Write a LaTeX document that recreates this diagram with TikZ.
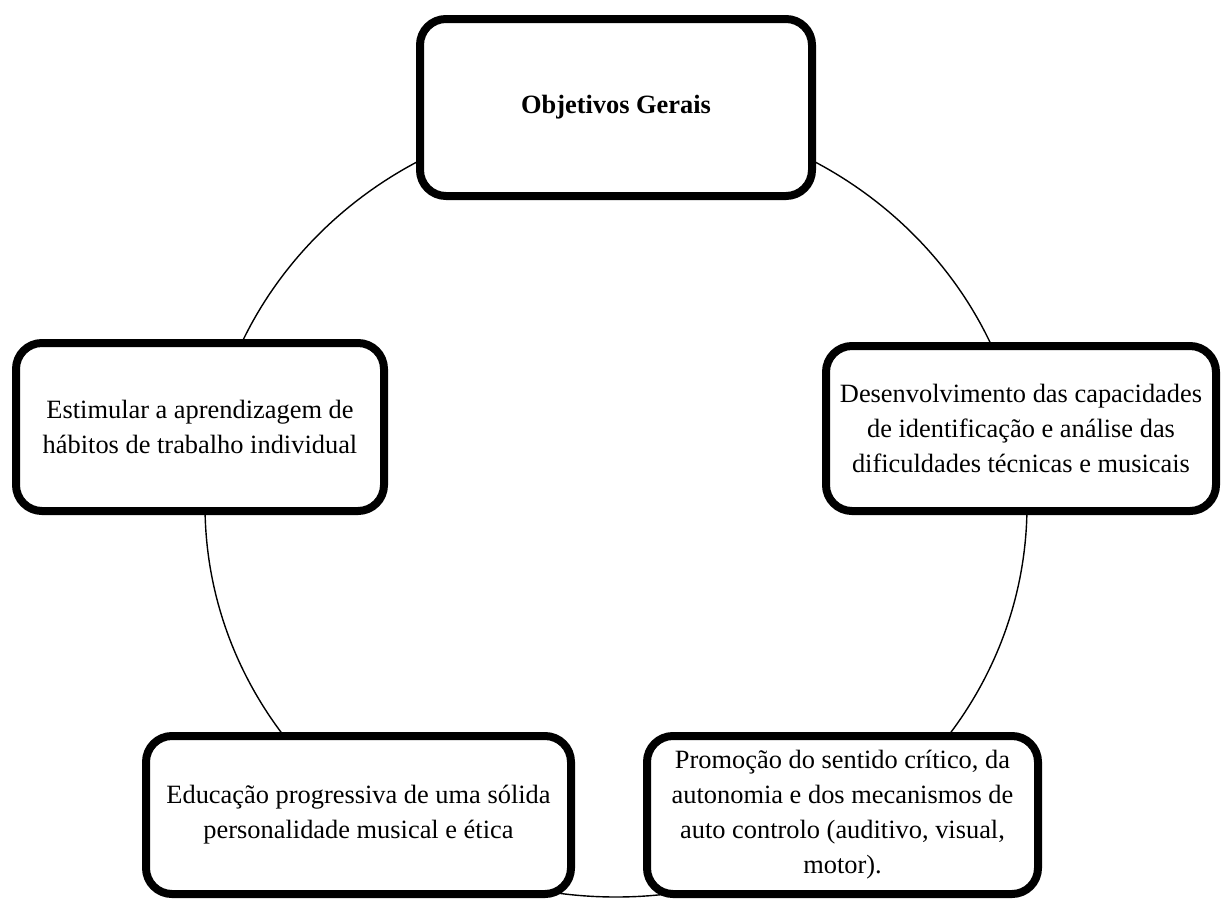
\documentclass[tikz,border=0pt]{standalone}
\usepackage{fontspec}
\setmainfont{Liberation Serif}
\usetikzlibrary{positioning,shadows,backgrounds}

\begin{document}
\begin{tikzpicture}[x=1pt,y=-1pt]
        \tikzstyle{every node}+=[inner sep=0pt]
        \tikzstyle{goal}=[draw=black, line width=8pt, rounded corners=26pt, fill=white, align=center,
          font=\fontsize{26.4}{35}\selectfont,
          drop shadow={shadow xshift=1.5pt, shadow yshift=-3pt, opacity=0.3}]
        \useasboundingbox (0,0) rectangle (1221,900);
        \coordinate (ring) at (616,505);
        \node [goal, minimum width=392pt, minimum height=177pt] (gerais) at (616,107.5) {\textbf{Objetivos Gerais}};
        \node [goal, minimum width=390pt, minimum height=165pt] (analise) at (1021,428.5)
          {Desenvolvimento das capacidades\\de identificação e análise das\\dificuldades técnicas e musicais};
        \node [goal, minimum width=391pt, minimum height=158pt] (critico) at (842.5,815)
          {Promoção do sentido crítico, da\\autonomia e dos mecanismos de\\auto controlo (auditivo, visual,\\motor).};
        \node [goal, minimum width=425pt, minimum height=158pt] (etica) at (358.5,815)
          {Educação progressiva de uma sólida\\personalidade musical e ética};
        \node [goal, minimum width=368pt, minimum height=168pt] (habitos) at (200,427)
          {Estimular a aprendizagem de\\hábitos de trabalho individual};
        % ciclo por tras das caixas
        \begin{scope}[on background layer]
        \draw [black, line width=1.4pt] (ring) ellipse [x radius=411pt, y radius=392pt];
        \end{scope}
\end{tikzpicture}
\end{document}
